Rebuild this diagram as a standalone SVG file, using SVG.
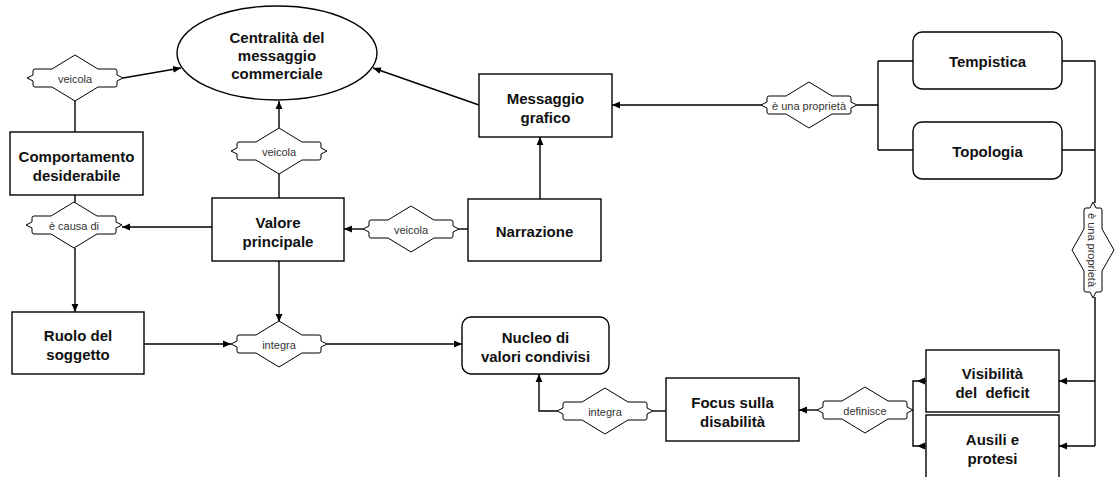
<svg xmlns="http://www.w3.org/2000/svg" xmlns:xlink="http://www.w3.org/1999/xlink" width="1115" height="477" viewBox="0 0 1115 477">
<style>
.box{fill:#fff;stroke:#000;stroke-width:1.4}
.dia{fill:#fff;stroke:#000;stroke-width:1}
.t{font-family:"Liberation Sans",Arial,Helvetica,sans-serif;font-weight:bold;font-size:15px;text-anchor:middle;dominant-baseline:central;fill:#111}
.l{font-family:"Liberation Sans",Arial,Helvetica,sans-serif;font-size:11px;text-anchor:middle;dominant-baseline:central;fill:#333}
.c{fill:none;stroke:#000;stroke-width:1.4}
.a{marker-end:url(#arr)}
</style>
<defs>
<marker id="arr" viewBox="0 0 8 8" refX="8" refY="4" markerWidth="8" markerHeight="8" markerUnits="userSpaceOnUse" orient="auto">
<path d="M0,0.6 L8,4 L0,7.4 Z" fill="#000"/>
</marker>
<path id="dm" d="M0,-23 L23,-9 L40,-9 Q42,-9 42,-7 L42,-3 L48,0 L42,3 L42,7 Q42,9 40,9 L23,9 L0,23 L-23,9 L-40,9 Q-42,9 -42,7 L-42,3 L-48,0 L-42,-3 L-42,-7 Q-42,-9 -40,-9 L-23,-9 Z"/>
<path id="dmv" d="M0,-21 L21,-9 L40,-9 Q42,-9 42,-7 L42,-3 L48,0 L42,3 L42,7 Q42,9 40,9 L21,9 L0,21 L-21,9 L-40,9 Q-42,9 -42,7 L-42,3 L-48,0 L-42,-3 L-42,-7 Q-42,-9 -40,-9 L-21,-9 Z"/>
</defs>
<rect width="1115" height="477" fill="#fff"/>

<g id="connectors">
<path class="c" d="M75,100 V132"/>
<path class="c a" d="M123,78 L181,68"/>
<path class="c" d="M75,195 V203"/>
<path class="c a" d="M212,227 H122"/>
<path class="c a" d="M75,248 V312"/>
<path class="c" d="M279,198 V174"/>
<path class="c a" d="M279,128 V101"/>
<path class="c" d="M468,229 H459"/>
<path class="c a" d="M363,229 H344"/>
<path class="c a" d="M540,199 V137"/>
<path class="c a" d="M479,105 L373,68"/>
<path class="c a" d="M762,105 H612"/>
<path class="c" d="M857,105 H878 M878,61 V150 M878,61 H913 M878,150 H913"/>
<path class="c" d="M1062,61 H1095 V203 M1062,150 H1095 M1095,297 V446"/>
<path class="c a" d="M1095,381 H1059"/>
<path class="c a" d="M1095,446 H1059"/>
<path class="c a" d="M926,381 H917"/>
<path class="c a" d="M926,446 H917"/>
<path class="c" d="M917,381 H913 V446 H917"/>
<path class="c a" d="M817,410 H799"/>
<path class="c" d="M666,411 H653"/>
<path class="c a" d="M557,411 H539 V374"/>
<path class="c a" d="M144,344 H231"/>
<path class="c a" d="M327,344 H462"/>
<path class="c a" d="M279,261 V322"/>
</g>

<g id="centralita">
<ellipse class="box" cx="277" cy="53" rx="100" ry="47"/>
<text class="t" x="277" y="37">Centralità del</text>
<text class="t" x="277" y="55">messaggio</text>
<text class="t" x="277" y="73">commerciale</text>
</g>

<g id="comportamento">
<rect class="box" x="10" y="132" width="133" height="63"/>
<text class="t" x="76.5" y="156">Comportamento</text>
<text class="t" x="76.5" y="175">desiderabile</text>
</g>

<g id="valore">
<rect class="box" x="212" y="198" width="132" height="63"/>
<text class="t" x="278" y="222">Valore</text>
<text class="t" x="278" y="241">principale</text>
</g>

<g id="ruolo">
<rect class="box" x="12" y="312" width="132" height="62"/>
<text class="t" x="78" y="335">Ruolo del</text>
<text class="t" x="78" y="354">soggetto</text>
</g>

<g id="messaggio">
<rect class="box" x="479" y="74" width="133" height="63"/>
<text class="t" x="545.5" y="98">Messaggio</text>
<text class="t" x="545.5" y="117">grafico</text>
</g>

<g id="narrazione">
<rect class="box" x="468" y="199" width="133" height="62"/>
<text class="t" x="534.5" y="231">Narrazione</text>
</g>

<g id="nucleo">
<rect class="box" x="462" y="317" width="147" height="57" rx="9"/>
<text class="t" x="535.5" y="337">Nucleo di</text>
<text class="t" x="535.5" y="356">valori condivisi</text>
</g>

<g id="tempistica">
<rect class="box" x="913" y="32" width="149" height="57" rx="9"/>
<text class="t" x="987.5" y="61">Tempistica</text>
</g>

<g id="topologia">
<rect class="box" x="913" y="122" width="149" height="57" rx="9"/>
<text class="t" x="987.5" y="151">Topologia</text>
</g>

<g id="focus">
<rect class="box" x="666" y="378" width="133" height="63"/>
<text class="t" x="732.5" y="402">Focus sulla</text>
<text class="t" x="732.5" y="421">disabilità</text>
</g>

<g id="visibilita">
<rect class="box" x="926" y="350" width="133" height="62"/>
<text class="t" x="992.5" y="373">Visibilità</text>
<text class="t" x="992.5" y="392" xml:space="preserve" style="white-space:pre">del  deficit</text>
</g>

<g id="ausili">
<rect class="box" x="926" y="415" width="133" height="64"/>
<text class="t" x="992.5" y="439">Ausili e</text>
<text class="t" x="992.5" y="458">protesi</text>
</g>

<g id="rel-veicola-1">
<use href="#dm" class="dia" x="75" y="78"/>
<text class="l" x="75" y="79">veicola</text>
</g>
<g id="rel-veicola-2">
<use href="#dm" class="dia" x="279" y="151"/>
<text class="l" x="279" y="152">veicola</text>
</g>
<g id="rel-causa">
<use href="#dm" class="dia" x="74" y="225"/>
<text class="l" x="74" y="226">è causa di</text>
</g>
<g id="rel-veicola-3">
<use href="#dm" class="dia" x="411" y="229"/>
<text class="l" x="411" y="230">veicola</text>
</g>
<g id="rel-integra-1">
<use href="#dm" class="dia" x="279" y="344"/>
<text class="l" x="279" y="345">integra</text>
</g>
<g id="rel-integra-2">
<use href="#dm" class="dia" x="605" y="411"/>
<text class="l" x="605" y="412">integra</text>
</g>
<g id="rel-definisce">
<use href="#dm" class="dia" x="865" y="410"/>
<text class="l" x="865" y="411">definisce</text>
</g>
<g id="rel-proprieta-1">
<use href="#dm" class="dia" x="809" y="105"/>
<text class="l" x="809" y="106">è una proprietà</text>
</g>
<g id="rel-proprieta-2">
<g transform="translate(1093,250) rotate(90)">
<use href="#dmv" class="dia"/>
<text class="l" x="0" y="1">è una proprietà</text>
</g>
</g>
</svg>
